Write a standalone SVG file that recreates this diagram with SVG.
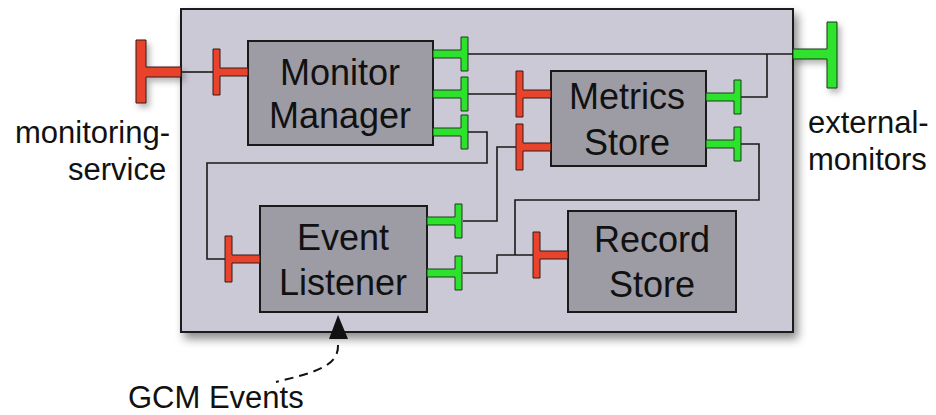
<svg xmlns="http://www.w3.org/2000/svg" xmlns:xlink="http://www.w3.org/1999/xlink" width="936" height="415" viewBox="0 0 936 415">
<style>
.lbl{font-family:"Liberation Sans",Arial,sans-serif;font-size:31px;fill:#111}
.ntx{font-family:"Liberation Sans",Arial,sans-serif;font-size:36px;fill:#111;text-anchor:middle}
.node{fill:#9d9ba4;stroke:#1a1a1a;stroke-width:2}
.wire{fill:none;stroke:#1a1a1a;stroke-width:1.6}
.red{fill:#e8432c;stroke:#3a1a14;stroke-width:1}
.green{fill:#2de22d;stroke:#1d3a1d;stroke-width:1}
</style>
<defs>
<filter id="sh" x="-10%" y="-10%" width="125%" height="130%">
<feDropShadow dx="4" dy="6" stdDeviation="5" flood-color="#000" flood-opacity="0.45"/>
</filter>
<filter id="sh2" x="-30%" y="-30%" width="180%" height="180%">
<feDropShadow dx="3" dy="4" stdDeviation="3" flood-color="#000" flood-opacity="0.3"/>
</filter>
<path id="inT" d="M0,-4 H-28 V-23 H-35 V23 H-28 V4 H0 Z"/>
<path id="outT" d="M0,-4 H28 V-17 H35 V17 H28 V4 H0 Z"/>
</defs>
<rect id="container" x="181" y="9" width="612" height="323" fill="#cbc9d5" stroke="#1a1a1a" stroke-width="2" filter="url(#sh)"/>
<g id="monitoring-service">
<path class="red" filter="url(#sh2)" d="M181,67 H146 V40 H136 V103 H146 V77 H181 Z"/>
<text class="lbl" x="15" y="143">monitoring-</text>
<text class="lbl" x="68" y="180">service</text>
</g>
<g id="external-monitors">
<path class="green" filter="url(#sh2)" d="M793,49 H827 V22 H837 V88 H827 V59 H793 Z"/>
<text class="lbl" x="808" y="133">external-</text>
<text class="lbl" x="808" y="170">monitors</text>
</g>
<g id="connectors">
<path class="wire" d="M181,72 H213"/>
<path class="wire" d="M468,54 H793"/>
<path class="wire" d="M741,97 H767 V54"/>
<path class="wire" d="M468,94 H516"/>
<path class="wire" d="M468,132 H487 V163 H207 V259 H227"/>
<path class="wire" d="M463,221 H497 V147 H516"/>
<path class="wire" d="M741,144 H759 V200 H515 V255"/>
<path class="wire" d="M463,273 H497 V255 H534"/>
<path d="M338,345 C339,367 312,373 276,382" fill="none" stroke="#111" stroke-width="2" stroke-dasharray="9,6"/>
<polygon points="338,315 329,339 348,339" fill="#111"/>
</g>
<g id="monitor-manager">
<rect class="node" x="248" y="41" width="185" height="104"/>
<use href="#inT" x="248" y="72" class="red"/>
<use href="#outT" x="433" y="54" class="green"/>
<use href="#outT" x="433" y="94" class="green"/>
<use href="#outT" x="433" y="132" class="green"/>
<text class="ntx" x="340" y="85">Monitor</text>
<text class="ntx" x="340" y="128">Manager</text>
</g>
<g id="metrics-store">
<rect class="node" x="551" y="71" width="155" height="95"/>
<use href="#inT" x="551" y="94" class="red"/>
<use href="#inT" x="551" y="147" class="red"/>
<use href="#outT" x="706" y="97" class="green"/>
<use href="#outT" x="706" y="144" class="green"/>
<text class="ntx" x="627" y="109">Metrics</text>
<text class="ntx" x="627" y="155">Store</text>
</g>
<g id="event-listener">
<rect class="node" x="260" y="206" width="167" height="106"/>
<use href="#inT" x="260" y="259" class="red"/>
<use href="#outT" x="427" y="221" class="green"/>
<use href="#outT" x="427" y="273" class="green"/>
<text class="ntx" x="343" y="250">Event</text>
<text class="ntx" x="343" y="295">Listener</text>
</g>
<g id="record-store">
<rect class="node" x="568" y="211" width="168" height="101"/>
<use href="#inT" x="568" y="255" class="red"/>
<text class="ntx" x="652" y="252">Record</text>
<text class="ntx" x="652" y="297">Store</text>
</g>
<g id="gcm-events">
<text class="lbl" x="128" y="408">GCM Events</text>
</g>
</svg>
